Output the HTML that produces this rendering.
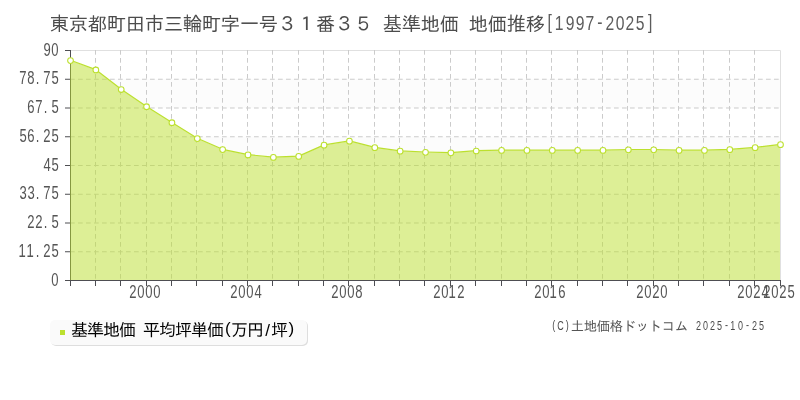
<!DOCTYPE html>
<html lang="ja">
<head>
<meta charset="utf-8">
<title>東京都町田市三輪町字一号３１番３５ 基準地価 地価推移[1997-2025]</title>
<style>
html,body{margin:0;padding:0;background:#ffffff;}
body{width:800px;height:400px;overflow:hidden;}
svg{display:block;}
text{font-family:"Liberation Sans", "IPAGothic", sans-serif;white-space:pre;}
</style>
</head>
<body>
<svg width="800" height="400" viewBox="0 0 800 400">
<rect x="0" y="0" width="800" height="400" fill="#ffffff"/>
<rect x="71" y="79.25" width="709" height="28.75" fill="#fcfcfc"/>
<rect x="71" y="136.75" width="709" height="28.75" fill="#fcfcfc"/>
<rect x="71" y="194.25" width="709" height="28.75" fill="#fcfcfc"/>
<rect x="71" y="251.75" width="709" height="28.75" fill="#fcfcfc"/>
<path d="M71 50.5H780.5V280" fill="none" stroke="#e0e0e0" stroke-width="1"/>
<path d="M70 79.25H780M70 108H780M70 136.75H780M70 165.5H780M70 194.25H780M70 223H780M70 251.75H780" fill="none" stroke="#cbcbcb" stroke-width="1" stroke-dasharray="4.7 3.3"/>
<path d="M95.5 50V280M120.5 50V280M146.5 50V280M171.5 50V280M196.5 50V280M222.5 50V280M247.5 50V280M272.5 50V280M298.5 50V280M323.5 50V280M348.5 50V280M374.5 50V280M399.5 50V280M424.5 50V280M450.5 50V280M475.5 50V280M501.5 50V280M526.5 50V280M551.5 50V280M577.5 50V280M602.5 50V280M627.5 50V280M653.5 50V280M678.5 50V280M703.5 50V280M729.5 50V280M754.5 50V280" fill="none" stroke="#cbcbcb" stroke-width="1" stroke-dasharray="4.7 3.3"/>
<path d="M70.5 50V281M65 280.5H781M65 50.5H70M65 79.25H70M65 108H70M65 136.75H70M65 165.5H70M65 194.25H70M65 223H70M65 251.75H70M70.5 281V286M95.5 281V286M120.5 281V286M146.5 281V286M171.5 281V286M196.5 281V286M222.5 281V286M247.5 281V286M272.5 281V286M298.5 281V286M323.5 281V286M348.5 281V286M374.5 281V286M399.5 281V286M424.5 281V286M450.5 281V286M475.5 281V286M501.5 281V286M526.5 281V286M551.5 281V286M577.5 281V286M602.5 281V286M627.5 281V286M653.5 281V286M678.5 281V286M703.5 281V286M729.5 281V286M754.5 281V286M780.5 281V286" fill="none" stroke="#4e4e52" stroke-width="1"/>
<path d="M70 280L70 60.6L70.5 60.6L95.86 69.95L121.21 89.5L146.57 106.7L171.93 122.7L197.29 138.6L222.64 149.6L248 154.95L273.36 157.4L298.71 156.45L324.07 145.2L349.43 141.2L374.79 147.7L400.14 151.2L425.5 152.3L450.86 152.85L476.21 151L501.57 150.45L526.93 150.45L552.29 150.45L577.64 150.45L603 150.45L628.36 149.8L653.71 149.8L679.07 150.45L704.43 150.45L729.79 149.7L755.14 147.7L780.5 144.65L780 144.65L780 280Z" fill="#bce02e" fill-opacity="0.5" stroke="none"/>
<path d="M70.5 60.3L95.86 69.65L121.21 89.2L146.57 106.4L171.93 122.4L197.29 138.3L222.64 149.3L248 154.65L273.36 157.1L298.71 156.15L324.07 144.9L349.43 140.9L374.79 147.4L400.14 150.9L425.5 152L450.86 152.55L476.21 150.7L501.57 150.15L526.93 150.15L552.29 150.15L577.64 150.15L603 150.15L628.36 149.5L653.71 149.5L679.07 150.15L704.43 150.15L729.79 149.4L755.14 147.4L780.5 144.35" fill="none" stroke="#bce02e" stroke-width="1.2" stroke-linejoin="round"/>
<circle cx="70.5" cy="60.6" r="2.85" fill="#ffffff" stroke="#bce02e" stroke-width="1.05"/>
<circle cx="95.86" cy="69.95" r="2.85" fill="#ffffff" stroke="#bce02e" stroke-width="1.05"/>
<circle cx="121.21" cy="89.5" r="2.85" fill="#ffffff" stroke="#bce02e" stroke-width="1.05"/>
<circle cx="146.57" cy="106.7" r="2.85" fill="#ffffff" stroke="#bce02e" stroke-width="1.05"/>
<circle cx="171.93" cy="122.7" r="2.85" fill="#ffffff" stroke="#bce02e" stroke-width="1.05"/>
<circle cx="197.29" cy="138.6" r="2.85" fill="#ffffff" stroke="#bce02e" stroke-width="1.05"/>
<circle cx="222.64" cy="149.6" r="2.85" fill="#ffffff" stroke="#bce02e" stroke-width="1.05"/>
<circle cx="248" cy="154.95" r="2.85" fill="#ffffff" stroke="#bce02e" stroke-width="1.05"/>
<circle cx="273.36" cy="157.4" r="2.85" fill="#ffffff" stroke="#bce02e" stroke-width="1.05"/>
<circle cx="298.71" cy="156.45" r="2.85" fill="#ffffff" stroke="#bce02e" stroke-width="1.05"/>
<circle cx="324.07" cy="145.2" r="2.85" fill="#ffffff" stroke="#bce02e" stroke-width="1.05"/>
<circle cx="349.43" cy="141.2" r="2.85" fill="#ffffff" stroke="#bce02e" stroke-width="1.05"/>
<circle cx="374.79" cy="147.7" r="2.85" fill="#ffffff" stroke="#bce02e" stroke-width="1.05"/>
<circle cx="400.14" cy="151.2" r="2.85" fill="#ffffff" stroke="#bce02e" stroke-width="1.05"/>
<circle cx="425.5" cy="152.3" r="2.85" fill="#ffffff" stroke="#bce02e" stroke-width="1.05"/>
<circle cx="450.86" cy="152.85" r="2.85" fill="#ffffff" stroke="#bce02e" stroke-width="1.05"/>
<circle cx="476.21" cy="151" r="2.85" fill="#ffffff" stroke="#bce02e" stroke-width="1.05"/>
<circle cx="501.57" cy="150.45" r="2.85" fill="#ffffff" stroke="#bce02e" stroke-width="1.05"/>
<circle cx="526.93" cy="150.45" r="2.85" fill="#ffffff" stroke="#bce02e" stroke-width="1.05"/>
<circle cx="552.29" cy="150.45" r="2.85" fill="#ffffff" stroke="#bce02e" stroke-width="1.05"/>
<circle cx="577.64" cy="150.45" r="2.85" fill="#ffffff" stroke="#bce02e" stroke-width="1.05"/>
<circle cx="603" cy="150.45" r="2.85" fill="#ffffff" stroke="#bce02e" stroke-width="1.05"/>
<circle cx="628.36" cy="149.8" r="2.85" fill="#ffffff" stroke="#bce02e" stroke-width="1.05"/>
<circle cx="653.71" cy="149.8" r="2.85" fill="#ffffff" stroke="#bce02e" stroke-width="1.05"/>
<circle cx="679.07" cy="150.45" r="2.85" fill="#ffffff" stroke="#bce02e" stroke-width="1.05"/>
<circle cx="704.43" cy="150.45" r="2.85" fill="#ffffff" stroke="#bce02e" stroke-width="1.05"/>
<circle cx="729.79" cy="149.7" r="2.85" fill="#ffffff" stroke="#bce02e" stroke-width="1.05"/>
<circle cx="755.14" cy="147.7" r="2.85" fill="#ffffff" stroke="#bce02e" stroke-width="1.05"/>
<circle cx="780.5" cy="144.65" r="2.85" fill="#ffffff" stroke="#bce02e" stroke-width="1.05"/>
<text x="49.84 68.84 87.84 106.84 125.84 144.84 163.84 182.84 201.84 220.84 239.84 258.83 277.83 296.83 315.83 334.83 353.83 373.17 382.83 401.83 420.83 439.83 459.17 468.83 487.83 506.83 525.84" y="31" font-size="19.33" fill="#4c4c4c">東京都町田市三輪町字一号３１番３５ 基準地価 地価推移</text>
<text transform="scale(0.777 1)" x="704.77 713.87 728.05 740.92 753.7 768.83 779.36 792.33 805.1 818.16 834.02" y="29 30 30 30 30 29 30 30 30 30 29" font-size="20.2" fill="#5c5c5c">[1997-2025]</text>
<text transform="scale(0.725 1)" x="59.89 70.86" y="56" font-size="18" fill="#555555">90</text>
<text transform="scale(0.725 1)" x="26.7 37.76 49.28 59.81 70.94" y="84" font-size="18" fill="#555555">78.75</text>
<text transform="scale(0.725 1)" x="37.73 48.77 60.31 70.94" y="113" font-size="18" fill="#555555">67.5</text>
<text transform="scale(0.725 1)" x="26.8 37.73 49.28 59.74 70.94" y="142" font-size="18" fill="#555555">56.25</text>
<text transform="scale(0.725 1)" x="59.88 70.94" y="171" font-size="18" fill="#555555">45</text>
<text transform="scale(0.725 1)" x="26.75 37.78 49.28 59.81 70.94" y="199" font-size="18" fill="#555555">33.75</text>
<text transform="scale(0.725 1)" x="37.67 48.7 60.31 70.94" y="228" font-size="18" fill="#555555">22.5</text>
<text transform="scale(0.725 1)" x="25.63 36.66 49.28 59.74 70.94" y="257" font-size="18" fill="#555555">11.25</text>
<text transform="scale(0.725 1)" x="70.86" y="286" font-size="18" fill="#555555">0</text>
<text transform="scale(0.725 1)" x="178.36 189.48 200.52 211.55" y="298" font-size="18" fill="#555555">2000</text>
<text transform="scale(0.725 1)" x="317.67 328.79 339.83 350.91" y="298" font-size="18" fill="#555555">2004</text>
<text transform="scale(0.725 1)" x="456.98 468.1 479.14 490.17" y="298" font-size="18" fill="#555555">2008</text>
<text transform="scale(0.725 1)" x="597.67 608.79 618.73 630.77" y="298" font-size="18" fill="#555555">2012</text>
<text transform="scale(0.725 1)" x="736.98 748.1 758.04 770.14" y="298" font-size="18" fill="#555555">2016</text>
<text transform="scale(0.725 1)" x="877.67 888.79 899.74 910.86" y="298" font-size="18" fill="#555555">2020</text>
<text transform="scale(0.725 1)" x="1016.98 1028.1 1039.05 1050.22" y="298" font-size="18" fill="#555555">2024</text>
<text transform="scale(0.725 1)" x="1052.84 1063.97 1074.91 1086.11" y="298" font-size="18" fill="#555555">2025</text>
<rect x="51" y="321" width="257" height="25" rx="5" ry="5" fill="#dedede"/>
<rect x="50" y="320" width="257" height="25" rx="5" ry="5" fill="#fafafa"/>
<rect x="60" y="330" width="5" height="5" fill="#bce02e"/>
<text x="71.1 87.1 103.1 119.1 135.35 143.1 159.1 175.1 191.1 207.1 224.98 231.1 247.1 265.23 271.1 288.56" y="336 336 336 336 336 336 336 336 336 336 333.94 336 336 335.63 336 333.94" font-size="17" fill="#000000">基準地価 平均坪単価(万円/坪)</text>
<text transform="scale(0.72 1)" x="767.06 773.86 785.72" y="329 330 329" font-size="12.5" fill="#4a4a4a">(C)</text>
<text x="570.84 583.84 596.84 609.84 622.84 635.84 648.84 661.84 674.84 688.17" y="331" font-size="13.33" fill="#555555">土地価格ドットコム </text>
<text transform="scale(0.72 1)" x="966.59 976.39 986.04 995.9 1006.94 1014.39 1025 1036.11 1044.37 1054.23" y="330 330 330 330 329 330 330 329 330 330" font-size="12.5" fill="#4a4a4a">2025-10-25</text>
</svg>
</body>
</html>
